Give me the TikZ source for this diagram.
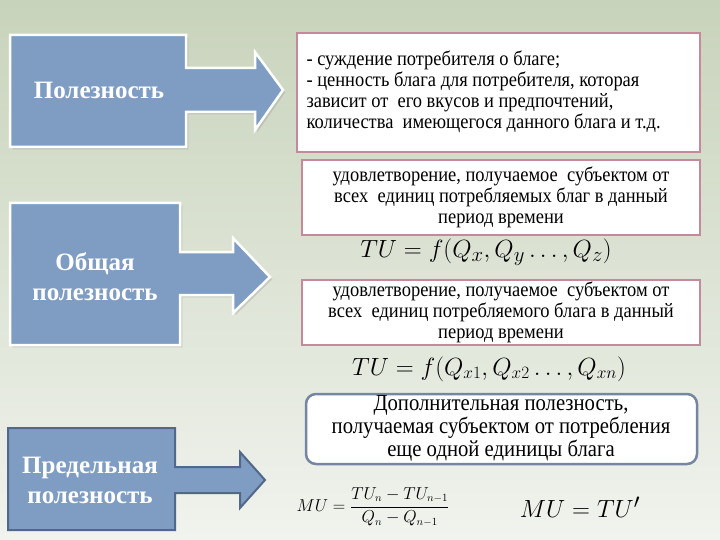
\documentclass[tikz,border=0pt]{standalone}
\usepackage{fontspec}
\setmainfont{Liberation Serif}
\newfontfamily\condf[FakeStretch=0.9]{Liberation Serif}
\usetikzlibrary{shadows}
\definecolor{bfill}{HTML}{7F9DC3}
\definecolor{bdark}{HTML}{51688A}
\definecolor{pinkb}{HTML}{C48A9C}
\definecolor{bgtop}{HTML}{C8D3BB}
\definecolor{bgbot}{HTML}{F1F3EE}
\tikzset{
  arrowshape/.style={fill=bfill, draw=white, line width=2.5pt, line join=miter, drop shadow={opacity=0.25}},
  arrowdark/.style={fill=bfill, draw=bdark, line width=2pt, line join=miter},
  lbl/.style={text=white, font=\bfseries\fontsize{25}{30}\selectfont, align=center},
  defbox/.style={draw=pinkb, line width=2pt, fill=white},
  deftext/.style={font=\condf\fontsize{20.5}{21}\selectfont, align=center},
}
\begin{document}
\begin{tikzpicture}[x=1pt,y=-1pt]
\useasboundingbox (0,0) rectangle (720,540);
\shade[top color=bgtop, bottom color=bgbot] (0,0) rectangle (720,540);
% arrow 1
\draw[arrowshape] (10,35) -- (186,35) -- (186,68) -- (255,68) -- (255,52) -- (283,90) -- (255,130) -- (255,112) -- (186,112) -- (186,147) -- (10,147) -- cycle;
\node[lbl] (p1) at (99,90) {Полезность};
% arrow 2
\draw[arrowshape] (10,203) -- (180,203) -- (180,252) -- (233,252) -- (233,238) -- (270,277) -- (233,313) -- (233,295) -- (180,295) -- (180,345) -- (10,345) -- cycle;
\node[lbl] (p2) at (95,277) {Общая\\полезность};
% arrow 3
\draw[arrowdark] (8,428) -- (175,428) -- (175,467) -- (240,467) -- (240,452) -- (265,480) -- (240,508) -- (240,493) -- (175,493) -- (175,530) -- (8,530) -- cycle;
\node[lbl] (p3) at (90,480) {Предельная\\полезность};
% boxes
\draw[defbox] (297,33) rectangle (700,152);
\node[deftext, align=left, anchor=west] (t1) at (303,92) {- суждение потребителя о благе;\\- ценность блага для потребителя, которая\\зависит от\ \ его вкусов и предпочтений,\\количества\ \ имеющегося данного блага и т.д.};
\draw[defbox] (302,160) rectangle (700,235);
\node[deftext] (t2) at (501,197) {удовлетворение, получаемое\ \ субъектом от\\всех\ \ единиц потребляемых благ в данный\\период времени};
\node[font=\fontsize{28}{30}\selectfont] (f1) at (486,252) {$TU=f(Q_x,Q_y\ldots,Q_z)$};
\draw[defbox] (302,280) rectangle (700,345);
\node[deftext] (t3) at (501,312) {удовлетворение, получаемое\ \ субъектом от\\всех\ \ единиц потребляемого блага в данный\\период времени};
\node[font=\fontsize{25}{28}\selectfont] (f2) at (489,369) {$TU=f(Q_{x1},Q_{x2}\ldots,Q_{xn})$};
\draw[draw=bdark!80, line width=2.5pt, fill=white, rounded corners=10pt] (306,394) rectangle (697,464);
\node[font=\condf\fontsize{23}{23}\selectfont, align=center] (t4) at (501,428) {Дополнительная полезность,\\получаемая субъектом от потребления\\еще одной единицы блага};
\node[font=\fontsize{16}{18}\selectfont] (f3) at (373,507) {$\displaystyle MU=\frac{TU_n-TU_{n-1}}{Q_n-Q_{n-1}}$};
\node[font=\fontsize{31}{33}\selectfont] (f4) at (580,507) {$MU=TU'$};
\end{tikzpicture}
\end{document}
